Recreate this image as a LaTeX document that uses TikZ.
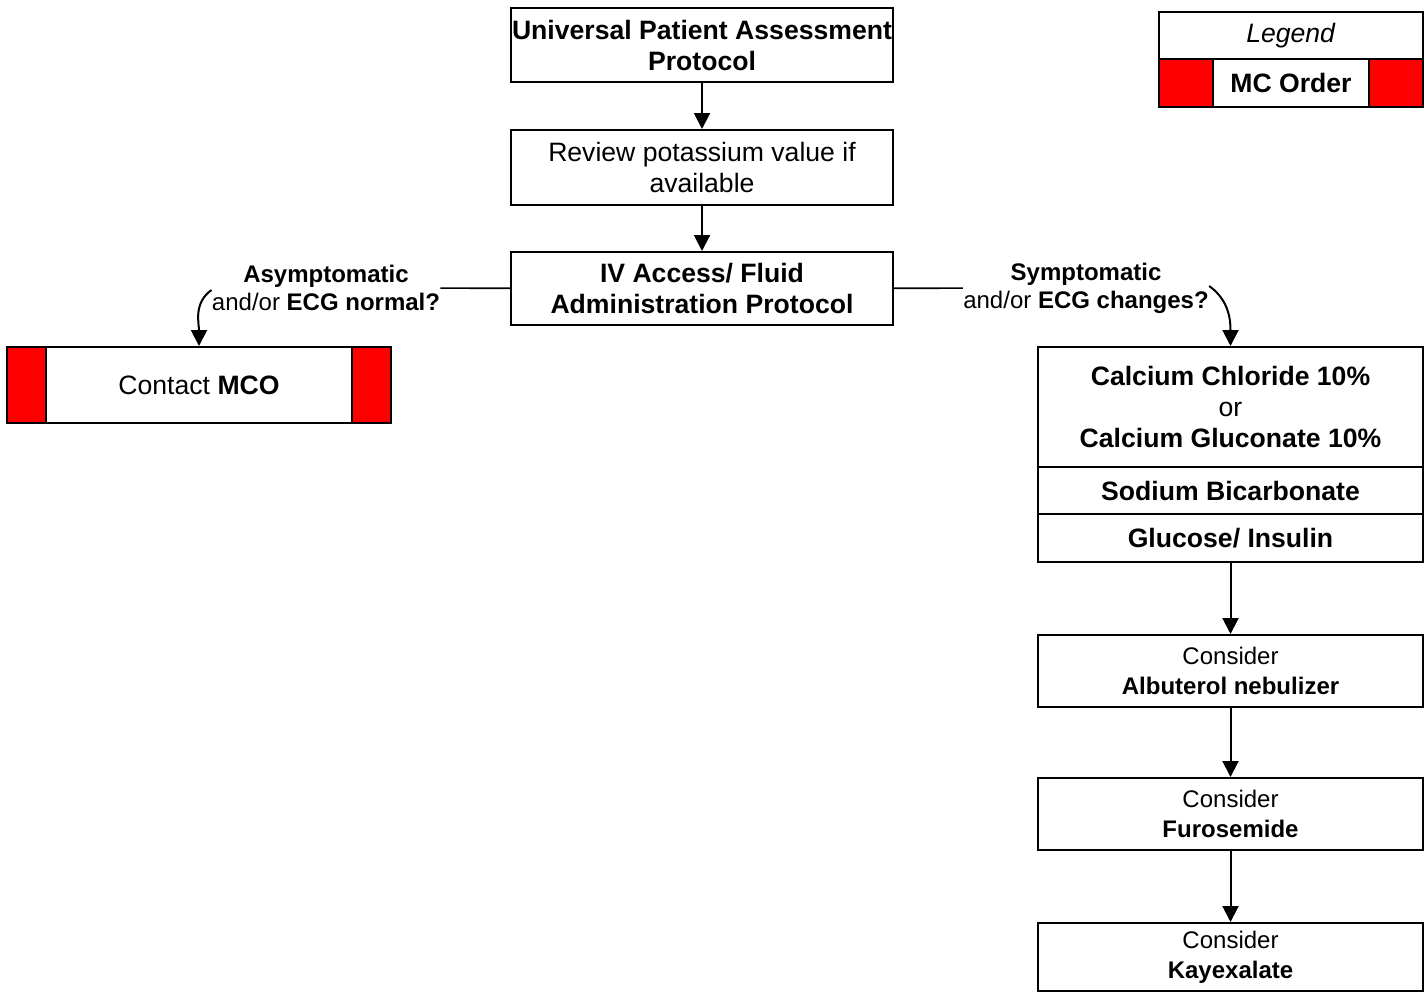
\documentclass[tikz,border=0pt]{standalone}
\usepackage{fontspec}
\setmainfont{Liberation Sans}
\usetikzlibrary{arrows.meta}

\definecolor{mcred}{RGB}{255,0,0}

\tikzset{
  box/.style={draw, line width=1pt, inner sep=0pt, align=center,
    font=\fontsize{13.3}{15.5}\selectfont},
  smallbox/.style={box, font=\fontsize{12}{15}\selectfont},
  cond/.style={inner sep=0pt, align=center, font=\fontsize{12}{14}\selectfont},
  flow/.style={-{Triangle[length=8pt,width=8pt]}, line width=1pt},
  % red bars at both ends of a box that needs an MC order
  mcorder/.style={path picture={
      \fill[mcred] (path picture bounding box.north west) rectangle
        ([xshift=#1]path picture bounding box.south west);
      \fill[mcred] (path picture bounding box.north east) rectangle
        ([xshift=-#1]path picture bounding box.south east);
      \draw[line width=1pt] ([xshift=#1]path picture bounding box.north west)
        -- ([xshift=#1]path picture bounding box.south west);
      \draw[line width=1pt] ([xshift=-#1]path picture bounding box.north east)
        -- ([xshift=-#1]path picture bounding box.south east);
    }},
}

\begin{document}
\begin{tikzpicture}[x=0.5pt,y=-0.5pt]
    \useasboundingbox (0,0) rectangle (1424,992);

    % main column
    \node[box, minimum width=191pt, minimum height=37pt] (top) at (702,45)
      {\textbf{Universal Patient Assessment}\\\textbf{Protocol}};
    \node[box, minimum width=191pt, minimum height=37.5pt] (review) at (702,167.5)
      {Review potassium value if\\available};
    \node[box, minimum width=191pt, minimum height=36.5pt] (iv) at (702,288.5)
      {\textbf{IV Access/ Fluid}\\\textbf{Administration Protocol}};

    % branch conditions
    \node[cond] (asym) at (326,288) {\textbf{Asymptomatic}\\and/or \textbf{ECG normal?}};
    \node[cond] (sympt) at (1086,288) {\textbf{Symptomatic}\\and/or \textbf{ECG changes?}};

    \node[box, mcorder=19.5pt, minimum width=192pt, minimum height=38pt] (contact) at (199,385)
      {Contact \textbf{MCO}};

    % treatment column
    \node[box, minimum width=192.5pt, minimum height=60pt] (calc) at (1230.5,407)
      {\textbf{Calcium Chloride 10\%}\\or\\\textbf{Calcium Gluconate 10\%}};
    \node[box, minimum width=192.5pt, minimum height=23.5pt] (soda) at (1230.5,490.5)
      {\textbf{Sodium Bicarbonate}};
    \node[box, minimum width=192.5pt, minimum height=24pt] (gluc) at (1230.5,538)
      {\textbf{Glucose/ Insulin}};
    \node[smallbox, minimum width=192.5pt, minimum height=36pt] (albu) at (1230.5,671)
      {Consider\\\textbf{Albuterol nebulizer}};
    \node[smallbox, minimum width=192.5pt, minimum height=36pt] (furo) at (1230.5,814)
      {Consider\\\textbf{Furosemide}};
    \node[smallbox, minimum width=192.5pt, minimum height=34pt] (kaye) at (1230.5,957)
      {Consider\\\textbf{Kayexalate}};

    % legend
    \node[box, minimum width=132pt, minimum height=23.5pt] (legend) at (1291,35.5)
      {\textit{Legend}};
    \node[box, mcorder=27pt, minimum width=132pt, minimum height=24pt] (order) at (1291,83)
      {\textbf{MC Order}};

    \foreach \a/\b in {top/review, review/iv, gluc/albu, albu/furo, furo/kaye}
      \draw[flow] (\a) -- (\b);

    \draw[line width=0.8pt] (iv) -- (asym);
    \draw[flow] ([yshift=-1pt]asym.west) to[out=-145,in=90] (contact.north);
    \draw[line width=0.8pt] (iv) -- (sympt);
    \draw[flow] ([yshift=1pt]sympt.east) to[out=-35,in=90] (calc.north);
\end{tikzpicture}
\end{document}
